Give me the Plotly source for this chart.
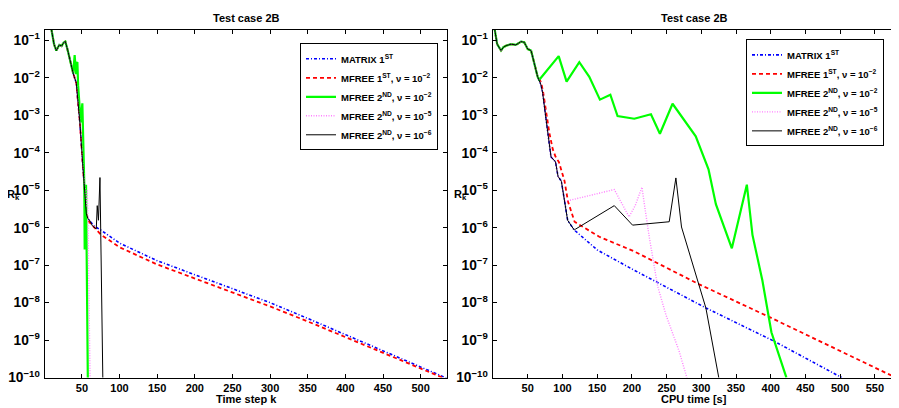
import plotly.graph_objects as go

W, H = 899, 408

# ---------------- data (values given as log10 of R_k) ----------------
# Left panel: time step k
L_head_k   = [1, 5, 9.5, 13, 16, 20, 23, 26, 28, 31, 35, 38.5]
L_head_log = [-0.2, -0.45, -0.7, -1.1, -1.27, -1.12, -1.15, -1.05, -1.03, -1.25, -1.6, -1.88]
L_desc_k   = [42.6, 45, 47.3, 50.9, 53.7, 55.9, 58]
L_desc_log = [-2.14, -2.6, -3.19, -4.24, -5.02, -5.63, -5.76]

L_matrix_k   = [66, 75.8, 100, 150, 200, 250, 300, 350, 400, 450, 500, 535]
L_matrix_log = [-5.95, -6.07, -6.41, -6.88, -7.25, -7.62, -8.0, -8.42, -8.85, -9.28, -9.70, -10.02]
L_mfree1_k   = [60, 75, 100, 150, 200, 250, 300, 350, 400, 450, 500, 535]
L_mfree1_log = [-5.85, -6.18, -6.52, -6.98, -7.35, -7.72, -8.1, -8.5, -8.92, -9.33, -9.74, -10.05]
L_green_k    = [40.4, 41.2, 42.2, 43, 44, 45, 46.2, 48.4, 50.6, 51.9, 53.2, 53.7, 54.3, 55.5, 58]
L_green_log  = [-1.39, -1.75, -1.9, -1.6, -1.58, -2.2, -2.49, -3.19, -2.68, -3.63, -4.85, -6.55, -6.55, -4.85, -10.3]
L_pink_k     = [55.9, 57, 58, 61]
L_pink_log   = [-5.45, -4.98, -5.6, -10.3]
L_black_k    = [60.3, 64, 69.1, 70.4, 72, 74, 78]
L_black_log  = [-5.80, -5.95, -6.03, -5.41, -5.8, -4.66, -10.3]

# Right panel: CPU time [s]
R_head_t   = [0, 2, 6, 11.6, 15, 18.8, 26, 33, 40.4, 45, 50, 54.8, 59.6, 64.3]
R_head_log = [-0.3, -0.66, -1.1, -1.27, -1.18, -1.14, -1.10, -1.12, -1.03, -1.05, -1.23, -1.27, -1.62, -1.97]
R_desc_t   = [69.2, 71.6, 76.4, 81, 83.6, 90, 93.7, 98.5]
R_desc_log = [-2.19, -2.41, -3.10, -3.71, -4.11, -4.24, -4.63, -4.76]

R_matrix_t   = [103.3, 107.5, 117, 150, 201, 250, 306.6, 405, 502.3]
R_matrix_log = [-5.37, -5.80, -6.06, -6.59, -7.11, -7.59, -8.14, -9.03, -10.0]
R_mfree1_t   = [66, 69.2, 72, 76.4, 81, 86, 90, 95, 100, 103, 108, 117.5, 153, 203.4, 297, 397.7, 580]
R_mfree1_log = [-2.0, -2.12, -2.35, -2.9, -3.45, -3.9, -4.1, -4.25, -4.6, -4.75, -5.3, -5.84, -6.24, -6.63, -7.51, -8.38, -10.0]
R_green_t    = [66.7, 94.6, 106, 124.3, 138.7, 154, 169, 179.4, 203.5, 227.5, 240.4, 258.6, 292, 310.4, 321, 344, 365.6, 373.7, 388, 401, 422.6]
R_green_log  = [-2.05, -1.42, -2.10, -1.58, -1.97, -2.58, -2.45, -3.02, -3.09, -2.97, -3.49, -2.69, -3.56, -4.44, -5.37, -6.55, -4.85, -6.19, -7.41, -8.79, -10.0]
R_pink_t     = [103.3, 174.7, 186.6, 196, 205, 214.5, 218, 225, 237, 249, 268, 280]
R_pink_log   = [-5.3, -4.98, -5.37, -5.71, -5.4, -4.92, -5.37, -6.24, -7.55, -8.32, -9.29, -10.05]
R_black_t    = [103.3, 107.5, 117, 118.6, 174.7, 201, 253.8, 263.4, 271.5, 306.6, 325.7]
R_black_log  = [-5.37, -5.80, -6.06, -6.04, -5.41, -5.93, -5.84, -4.67, -5.98, -8.14, -10.05]

names = ["<b>MATRIX 1<sup>ST</sup></b>",
         "<b>MFREE 1<sup>ST</sup>, \u03bd = 10<sup>\u22122</sup></b>",
         "<b>MFREE 2<sup>ND</sup>, \u03bd = 10<sup>\u22122</sup></b>",
         "<b>MFREE 2<sup>ND</sup>, \u03bd = 10<sup>\u22125</sup></b>",
         "<b>MFREE 2<sup>ND</sup>, \u03bd = 10<sup>\u22126</sup></b>"]

left_xticks = [50, 100, 150, 200, 250, 300, 350, 400, 450, 500]
right_xticks = [50, 100, 150, 200, 250, 300, 350, 400, 450, 500, 550]

styles = [dict(color="#0000ff", width=1.6, dash="3px,2px,1px,2px"),
          dict(color="#ff0000", width=1.8, dash="4px,3px"),
          dict(color="#00ff00", width=2.2),
          dict(color="#ff80ff", width=1.4, dash="1px,1.5px"),
          dict(color="#000000", width=1)]

def pw(v):
    return [10 ** x for x in v]

left_series = [
    (L_head_k + L_desc_k + L_matrix_k, L_head_log + L_desc_log + L_matrix_log),
    (L_head_k + L_desc_k + L_mfree1_k, L_head_log + L_desc_log + L_mfree1_log),
    (L_head_k + L_green_k, L_head_log + L_green_log),
    (L_head_k + L_desc_k[:5] + L_pink_k, L_head_log + L_desc_log[:5] + L_pink_log),
    (L_head_k + L_desc_k + L_black_k, L_head_log + L_desc_log + L_black_log),
]
right_series = [
    (R_head_t + R_desc_t + R_matrix_t, R_head_log + R_desc_log + R_matrix_log),
    (R_head_t + R_mfree1_t, R_head_log + R_mfree1_log),
    (R_head_t + R_green_t, R_head_log + R_green_log),
    (R_head_t + R_desc_t + R_pink_t, R_head_log + R_desc_log + R_pink_log),
    (R_head_t + R_desc_t + R_black_t, R_head_log + R_desc_log + R_black_log),
]

fig = go.Figure()
for i, (x, y) in enumerate(left_series):
    fig.add_trace(go.Scatter(x=x, y=pw(y), mode="lines", name=names[i], line=styles[i],
                             xaxis="x", yaxis="y", legend="legend"))
for i, (x, y) in enumerate(right_series):
    fig.add_trace(go.Scatter(x=x, y=pw(y), mode="lines", name=names[i], line=styles[i],
                             xaxis="x2", yaxis="y2", legend="legend2"))

FONT = "Liberation Sans"
tickfont = dict(family=FONT, size=11, color="#000", weight="bold")

# the page places the figure 8 px right of the window edge; compensate horizontally
SHIFT_X = -8

def px_x(p):
    return (p + SHIFT_X) / W

def px_y(p):
    return 1 - p / H

ydom = [px_y(377), px_y(22)]
yax = dict(type="log", range=[-10, -0.71], dtick=1, exponentformat="power",
           showline=True, linecolor="#000", linewidth=1, mirror="ticks",
           ticks="inside", ticklen=4, tickcolor="#000", tickfont=tickfont,
           ticklabelstandoff=2,
           showgrid=False, zeroline=False, domain=ydom)
xax = dict(showline=True, linecolor="#000", linewidth=1, mirror="ticks",
           ticks="inside", ticklen=4, tickcolor="#000", tickfont=tickfont,
           showgrid=False, zeroline=False)

legfont = dict(family=FONT, size=9.5, weight="bold", color="#000")
fig.update_layout(
    width=W, height=H, margin=dict(l=0, r=0, t=0, b=0),
    paper_bgcolor="white", plot_bgcolor="white",
    font=dict(family=FONT, color="#000"),
    xaxis=dict(xax, range=[1, 535], tickvals=left_xticks, domain=[px_x(45), px_x(447)], anchor="y"),
    yaxis=dict(yax, anchor="x"),
    xaxis2=dict(xax, range=[0, 579], tickvals=right_xticks, domain=[px_x(493), px_x(895)], anchor="y2"),
    yaxis2=dict(yax, anchor="x2"),
    legend=dict(x=px_x(300), y=px_y(36), xanchor="left", yanchor="top",
                bgcolor="white", bordercolor="#000", borderwidth=1,
                font=legfont, itemwidth=30, tracegroupgap=0),
    legend2=dict(x=px_x(746), y=px_y(32), xanchor="left", yanchor="top",
                 bgcolor="white", bordercolor="#000", borderwidth=1,
                 font=legfont, itemwidth=30, tracegroupgap=0),
)

bold = dict(family=FONT, size=11, color="#000", weight="bold")
ann = [
    dict(text="<b>Test case 2B</b>", x=px_x(246), y=px_y(10), xanchor="center"),
    dict(text="<b>Test case 2B</b>", x=px_x(694), y=px_y(10), xanchor="center"),
    dict(text="<b>Time step k</b>", x=px_x(246), y=px_y(399), xanchor="center"),
    dict(text="<b>CPU time [s]</b>", x=px_x(694), y=px_y(399), xanchor="center"),
    dict(text="<b>R<sub>k</sub></b>", x=px_x(22), y=px_y(191), xanchor="right"),
    dict(text="<b>R<sub>k</sub></b>", x=px_x(469), y=px_y(191), xanchor="right"),
]
for a in ann:
    fig.add_annotation(xref="paper", yref="paper", showarrow=False,
                       yanchor="middle", font=bold, **a)

fig.write_html("out.html", config={"displayModeBar": False})
